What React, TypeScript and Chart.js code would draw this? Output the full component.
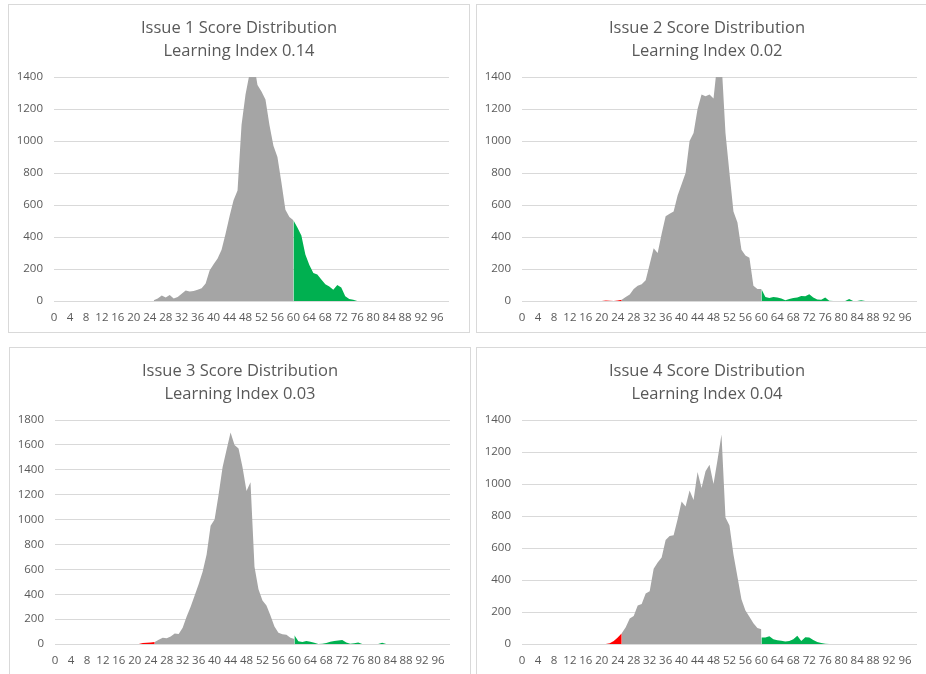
import React, { useEffect, useRef } from "react";
import { Chart, registerables } from "chart.js";

Chart.register(...registerables);

// Score categories 0..99, labelled every 4th
const SCORES: string[] = Array.from({ length: 100 }, (_, i) => String(i));
const LABEL_EVERY = 4;

// Series start scores
const LOW_START = 20; // red: scores 20..25
const MID_START = 25; // gray: scores 25..60
const HIGH_START = 60; // green: scores 60..

// Issue 1
const ISSUE1_TITLE = ["Issue 1 Score Distribution", "Learning Index 0.14"];
const ISSUE1_MAX = 1400;
const ISSUE1_LOW = [0, 0, 0, 0, 0, 0];
const ISSUE1_MID = [5, 15, 35, 22, 38, 15, 25, 45, 65, 60, 62, 70, 80, 110, 190, 230, 265, 320, 420, 530, 630, 690, 1100, 1290, 1420, 1500, 1350, 1310, 1260, 1100, 970, 900, 740, 570, 525, 505];
const ISSUE1_HIGH = [505, 460, 410, 290, 225, 175, 165, 135, 105, 90, 70, 100, 85, 30, 12, 8, 0];

// Issue 2
const ISSUE2_TITLE = ["Issue 2 Score Distribution", "Learning Index 0.02"];
const ISSUE2_MAX = 1400;
const ISSUE2_LOW = [0, 3, 2, 0, 3, 8];
const ISSUE2_MID = [8, 25, 40, 75, 95, 105, 130, 230, 330, 300, 420, 530, 545, 560, 660, 730, 800, 1000, 1050, 1200, 1290, 1280, 1290, 1265, 1500, 1500, 1050, 800, 560, 490, 320, 285, 270, 95, 75, 75];
const ISSUE2_HIGH = [75, 25, 18, 25, 22, 15, 5, 12, 18, 22, 32, 30, 42, 22, 10, 8, 22, 2, 0, 0, 0, 0, 12, 0, 0, 4, 0];

// Issue 3
const ISSUE3_TITLE = ["Issue 3 Score Distribution", "Learning Index 0.03"];
const ISSUE3_MAX = 1800;
const ISSUE3_LOW = [0, 0, 8, 10, 12, 16];
const ISSUE3_MID = [16, 35, 50, 46, 60, 85, 80, 130, 220, 300, 390, 480, 580, 720, 950, 1000, 1200, 1420, 1560, 1700, 1600, 1570, 1420, 1230, 1300, 620, 440, 350, 310, 230, 140, 90, 78, 75, 50, 40];
const ISSUE3_HIGH = [70, 22, 16, 24, 18, 10, 0, 3, 8, 18, 24, 28, 32, 12, 3, 6, 12, 0, 0, 0, 0, 0, 11, 0];

// Issue 4
const ISSUE4_TITLE = ["Issue 4 Score Distribution", "Learning Index 0.04"];
const ISSUE4_MAX = 1400;
const ISSUE4_LOW = [0, 0, 5, 18, 40, 67];
const ISSUE4_MID = [67, 105, 160, 175, 240, 250, 315, 330, 470, 510, 540, 650, 675, 680, 780, 890, 860, 960, 900, 1075, 975, 1080, 1120, 1000, 1150, 1310, 790, 740, 560, 420, 280, 210, 170, 130, 100, 92];
const ISSUE4_HIGH = [40, 40, 48, 30, 24, 20, 16, 18, 30, 52, 18, 42, 40, 25, 12, 6, 2, 0];

const Y_STEP = 200;

const RED = "#FF0000";
const GRAY = "#A5A5A5";
const GREEN = "#00B050";
const TEXT = "#595959";
const GRID = "#D9D9D9";
const FONT = "'Open Sans', 'Noto Sans', sans-serif";

function pad(values: number[], start: number): (number | null)[] {
  const out: (number | null)[] = new Array(SCORES.length).fill(null);
  values.forEach((v, i) => {
    if (start + i < out.length) out[start + i] = v;
  });
  return out;
}

type PanelProps = {
  title: string[];
  yMax: number;
  low: number[];
  mid: number[];
  high: number[];
  left: number;
  top: number;
};

const W = 460;
const H = 327;

function Panel({ title, yMax, low, mid, high, left, top }: PanelProps) {
  const ref = useRef<HTMLCanvasElement | null>(null);
  useEffect(() => {
    if (!ref.current) return;
    const mk = (data: (number | null)[], color: string) => ({
      data,
      backgroundColor: color,
      borderColor: "rgba(0,0,0,0)",
      borderWidth: 0,
      pointRadius: 0,
      pointHoverRadius: 0,
      fill: "origin",
      tension: 0,
      spanGaps: false,
    });
    const chart = new Chart(ref.current, {
      type: "line",
      data: {
        labels: SCORES,
        datasets: [
          mk(pad(low, LOW_START), RED),
          mk(pad(mid, MID_START), GRAY),
          mk(pad(high, HIGH_START), GREEN),
        ],
      },
      options: {
        responsive: false,
        animation: false,
        devicePixelRatio: 1,
        events: [],
        layout: { padding: 0 },
        plugins: {
          legend: { display: false },
          tooltip: { enabled: false },
          title: {
            display: true,
            text: title,
            color: TEXT,
            font: { family: FONT, size: 16.5, weight: "normal", lineHeight: "23px" },
            padding: { top: 12, bottom: 14 },
          },
        },
        scales: {
          x: {
            grid: { display: false, drawTicks: false },
            border: { display: false },
            ticks: {
              autoSkip: false,
              maxRotation: 0,
              minRotation: 0,
              padding: 10,
              color: TEXT,
              font: { family: FONT, size: 11.5 },
              callback: (_v: any, i: number) => (i % LABEL_EVERY === 0 ? SCORES[i] : ""),
            },
            afterFit: (s: any) => {
              s.height = 31;
            },
          },
          y: {
            min: 0,
            max: yMax,
            ticks: {
              stepSize: Y_STEP,
              padding: 11,
              color: TEXT,
              font: { family: FONT, size: 11.5 },
              callback: (v: any) => String(v),
            },
            grid: { color: GRID, drawTicks: false, lineWidth: 1 },
            border: { display: false },
            afterFit: (s: any) => {
              s.width = 45;
            },
          },
          yRight: {
            position: "right",
            display: true,
            min: 0,
            max: 1,
            grid: { display: false, drawTicks: false },
            border: { display: false },
            ticks: { display: false },
            afterFit: (s: any) => {
              s.width = 20;
            },
          },
        },
      } as any,
    });
    return () => chart.destroy();
  }, [title, yMax, low, mid, high]);
  return (
    <div
      style={{
        position: "absolute",
        left,
        top,
        width: W,
        height: H,
        border: `1px solid ${GRID}`,
        background: "#fff",
      }}
    >
      <canvas ref={ref} width={W} height={H} style={{ display: "block", width: W, height: H }} />
    </div>
  );
}

export default function App() {
  return (
    <div
      style={{
        position: "fixed",
        left: 0,
        top: 0,
        width: 926,
        height: 674,
        overflow: "hidden",
        background: "#fff",
      }}
    >
      <Panel title={ISSUE1_TITLE} yMax={ISSUE1_MAX} low={ISSUE1_LOW} mid={ISSUE1_MID} high={ISSUE1_HIGH} left={8} top={4} />
      <Panel title={ISSUE2_TITLE} yMax={ISSUE2_MAX} low={ISSUE2_LOW} mid={ISSUE2_MID} high={ISSUE2_HIGH} left={476} top={4} />
      <Panel title={ISSUE3_TITLE} yMax={ISSUE3_MAX} low={ISSUE3_LOW} mid={ISSUE3_MID} high={ISSUE3_HIGH} left={9} top={347} />
      <Panel title={ISSUE4_TITLE} yMax={ISSUE4_MAX} low={ISSUE4_LOW} mid={ISSUE4_MID} high={ISSUE4_HIGH} left={476} top={347} />
    </div>
  );
}
